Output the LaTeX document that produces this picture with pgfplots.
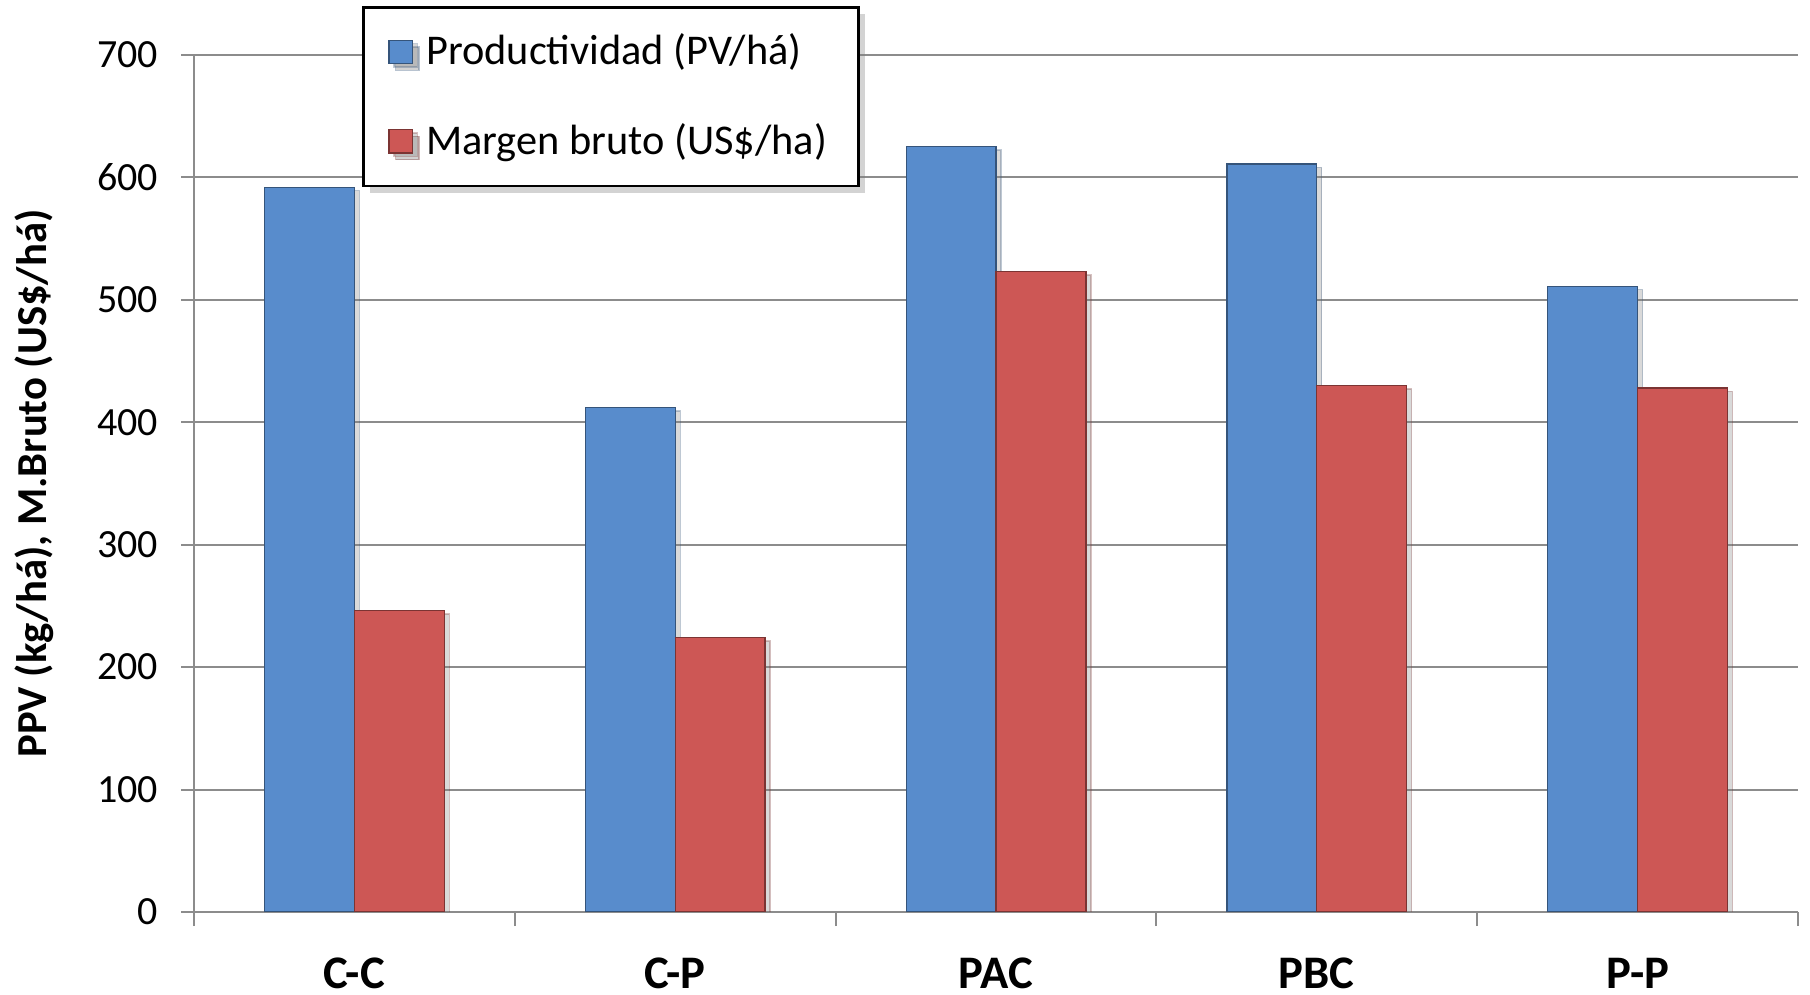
\documentclass[border=0pt]{standalone}
\usepackage{pgfplots}
\pgfplotsset{compat=1.18}
\usepackage{fontspec}
\setmainfont{Carlito}
\usetikzlibrary{shadows}

\definecolor{barblue}{RGB}{88,140,204}
\definecolor{barred}{RGB}{205,87,85}
\definecolor{gridgray}{RGB}{140,140,140}

\begin{document}
\begin{tikzpicture}
\begin{axis}[
    scale only axis,
    width=481.2pt, height=257.1pt,
    ybar=0pt, bar width=0.28,
    xmin=-0.5, xmax=4.5,
    ymin=0, ymax=700,
    ytick={0,100,...,700},
    xtick={0,1,2,3,4},
    xticklabels={C-C,C-P,PAC,PBC,P-P},
    minor xtick={-0.5,0.5,...,4.5},
    minor tick length=4.2pt,
    major tick length=3.8pt,
    xtick style={draw=none},
    minor x tick style={draw=gridgray, line width=0.6pt},
    ytick style={draw=gridgray, line width=0.6pt},
    tick align=outside,
    axis lines*=left,
    axis line style={draw=gridgray, line width=0.6pt, -},
    ymajorgrids,
    major grid style={draw=gridgray, line width=0.6pt},
    /pgf/number format/assume math mode=true,
    yticklabel style={font=\fontsize{12}{14}\selectfont, xshift=-3.5pt},
    xticklabel style={font=\bfseries\fontsize{14}{16}\selectfont, inner sep=0pt, text depth=0pt, yshift=-9.8pt},
    ylabel={PPV (kg/há), M.Bruto (US\$/há)},
    ylabel style={font=\bfseries\fontsize{12.8}{14}\selectfont, at={(axis description cs:-0.0993,0.5)}, anchor=center},
    legend style={
        at={(0.1047,1.0572)}, anchor=north west,
        draw=black, line width=0.8pt, fill=white,
        drop shadow={shadow xshift=2pt, shadow yshift=-2pt, opacity=0.35},
        font=\fontsize{12.7}{14}\selectfont,
        inner xsep=7.5pt, inner ysep=6pt, row sep=12pt,
        legend cell align=left,
    },
    legend image code/.code={\draw[#1, line width=0.4pt] (1pt,-3.5pt) rectangle (8pt,3.5pt); \path (10pt,0pt);},
]
\addplot[fill=barblue, draw=barblue!60!black, line width=0.4pt,
    drop shadow={shadow xshift=1.5pt, shadow yshift=-1pt, opacity=0.3}]
    coordinates {(0,592) (1,412) (2,625) (3,611) (4,511)};
\addlegendentry{Productividad (PV/há)}
\addplot[fill=barred, draw=barred!60!black, line width=0.4pt,
    drop shadow={shadow xshift=1.5pt, shadow yshift=-1pt, opacity=0.3}]
    coordinates {(0,246) (1,224) (2,523) (3,430) (4,428)};
\addlegendentry{Margen bruto (US\$/ha)}
\coordinate (O) at (rel axis cs:0,0);
\coordinate (T) at (rel axis cs:1,1);
\end{axis}
\pgfresetboundingbox
\path[use as bounding box] ([shift={(-58.2pt,-24.6pt)}]O) rectangle ([shift={(3.6pt,16.5pt)}]T);
\end{tikzpicture}
\end{document}
